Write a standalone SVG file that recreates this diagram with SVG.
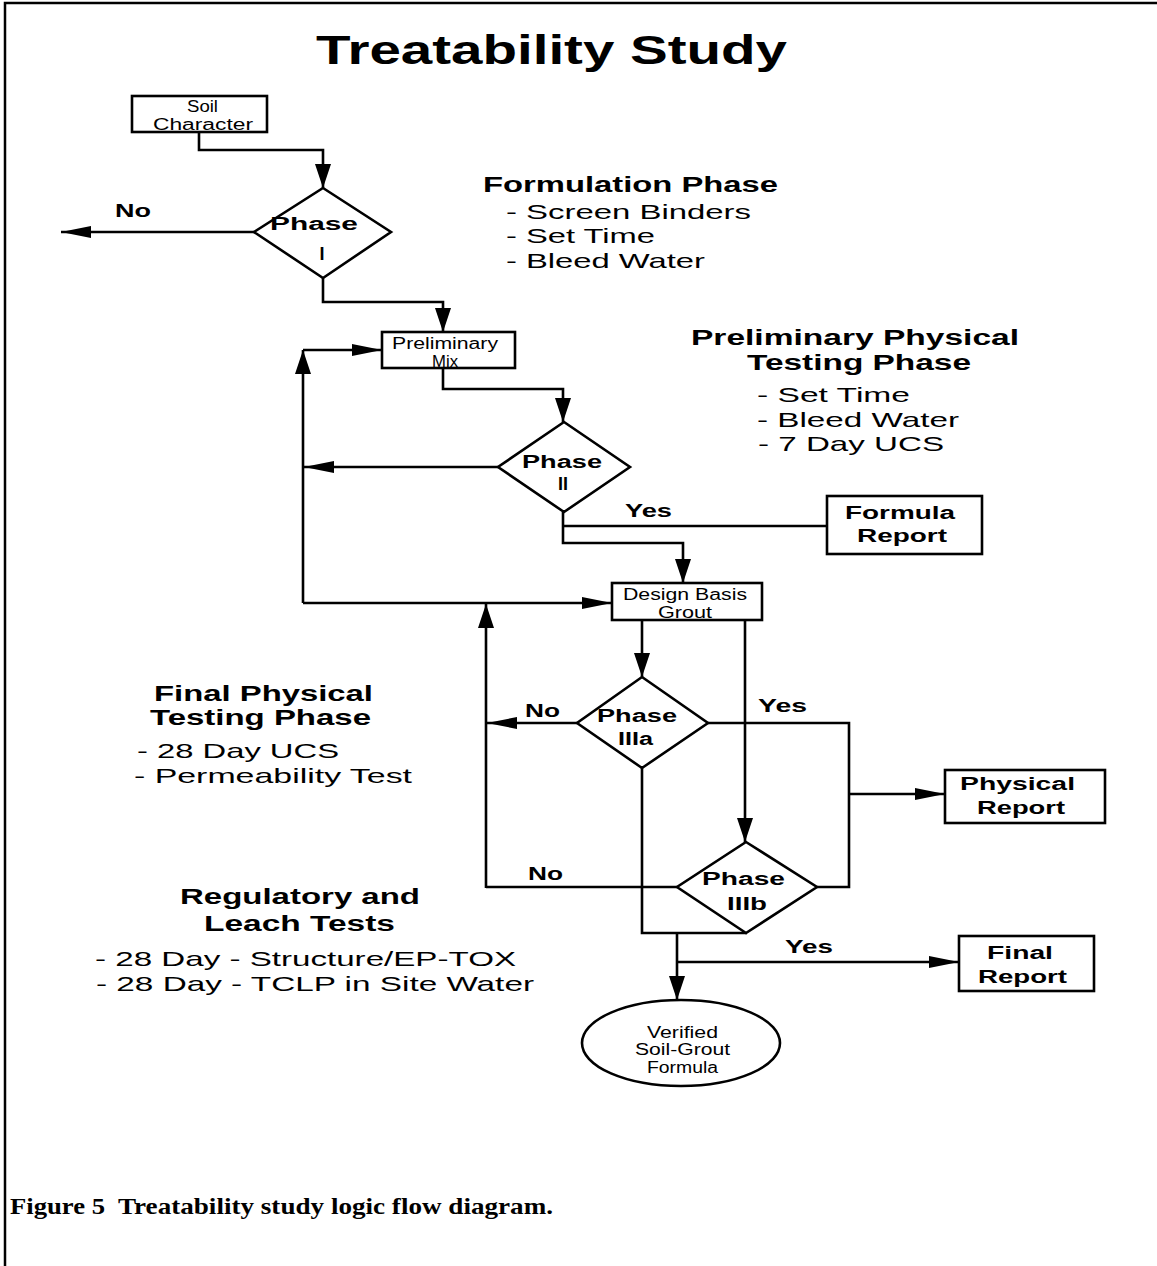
<svg xmlns="http://www.w3.org/2000/svg" width="1157" height="1266" viewBox="0 0 1157 1266">
<style>
.ln{fill:none;stroke:#000;stroke-width:2.6}
.bx{fill:#fff;stroke:#000;stroke-width:2.6}
.fr{fill:none;stroke:#000;stroke-width:2.5}
text{font-family:"Liberation Sans",Arial,sans-serif;fill:#000}
.ttl{font-size:40px;font-weight:bold}
.hd{font-size:22px;font-weight:bold}
.it{font-size:21px}
.lb{font-size:18px;font-weight:bold}
.sm{font-size:16px}
.cap{font-family:"Liberation Serif","Times New Roman",serif;font-size:23px;font-weight:bold}
</style>
<defs>
<marker id="av" markerUnits="userSpaceOnUse" markerWidth="24" markerHeight="16" refX="24" refY="8" orient="auto">
<path d="M0,0 L24,8 L0,16 Z" fill="#000"/>
</marker>
<marker id="ah" markerUnits="userSpaceOnUse" markerWidth="30" markerHeight="12" refX="30" refY="6" orient="auto">
<path d="M0,0 L30,6 L0,12 Z" fill="#000"/>
</marker>
</defs>
<rect width="1157" height="1266" fill="#fff"/>
<path class="fr" d="M5,1266 V3 H1157"/>
<text class="ttl" x="316" y="64" textLength="471" lengthAdjust="spacingAndGlyphs">Treatability Study</text>

<g id="connectors">
<path class="ln" d="M199,132 V150 H323 V188" marker-end="url(#av)"/>
<path class="ln" d="M254,232 H61" marker-end="url(#ah)"/>
<path class="ln" d="M323,278 V302 H443 V332" marker-end="url(#av)"/>
<path class="ln" d="M443,368 V389 H563 V422" marker-end="url(#av)"/>
<path class="ln" d="M498,467 H304" marker-end="url(#ah)"/>
<path class="ln" d="M303,603 V350" marker-end="url(#av)"/>
<path class="ln" d="M303,350 H382" marker-end="url(#ah)"/>
<path class="ln" d="M303,603 H612" marker-end="url(#ah)"/>
<path class="ln" d="M486,888 V604" marker-end="url(#av)"/>
<path class="ln" d="M563,512 V543 H683 V583" marker-end="url(#av)"/>
<path class="ln" d="M563,526 H827"/>
<path class="ln" d="M642,620 V677" marker-end="url(#av)"/>
<path class="ln" d="M745,620 V842" marker-end="url(#av)"/>
<path class="ln" d="M577,723 H487" marker-end="url(#ah)"/>
<path class="ln" d="M708,723 H849 V887 H817"/>
<path class="ln" d="M849,794 H945" marker-end="url(#ah)"/>
<path class="ln" d="M677,887 H486"/>
<path class="ln" d="M642,768 V933 H747"/>
<path class="ln" d="M677,933 V1000" marker-end="url(#av)"/>
<path class="ln" d="M677,962 H959" marker-end="url(#ah)"/>
</g>

<g id="soil">
<rect class="bx" x="132" y="96" width="135" height="36"/>
<text class="sm" x="187" y="112" textLength="31" lengthAdjust="spacingAndGlyphs">Soil</text>
<text class="sm" x="153" y="130" textLength="100" lengthAdjust="spacingAndGlyphs">Character</text>
</g>

<g id="phase1">
<polygon class="bx" points="323,188 391,232 323,278 254,232"/>
<text class="lb" x="270" y="230" textLength="88" lengthAdjust="spacingAndGlyphs">Phase</text>
<text class="lb" x="322" y="260" text-anchor="middle">I</text>
</g>
<text class="lb" x="115" y="217" textLength="36" lengthAdjust="spacingAndGlyphs">No</text>

<g id="prelimmix">
<rect class="bx" x="382" y="332" width="133" height="36"/>
<text class="sm" x="392" y="349" textLength="106" lengthAdjust="spacingAndGlyphs">Preliminary</text>
<text class="sm" x="432" y="367" textLength="26" lengthAdjust="spacingAndGlyphs">Mix</text>
</g>

<g id="phase2">
<polygon class="bx" points="564,422 630,467 564,512 498,467"/>
<text class="lb" x="522" y="468" textLength="80" lengthAdjust="spacingAndGlyphs">Phase</text>
<text class="lb" x="563" y="490" text-anchor="middle">II</text>
</g>
<text class="lb" x="625" y="517" textLength="47" lengthAdjust="spacingAndGlyphs">Yes</text>

<g id="formulareport">
<rect class="bx" x="827" y="496" width="155" height="58"/>
<text class="lb" x="845" y="519" textLength="110" lengthAdjust="spacingAndGlyphs">Formula</text>
<text class="lb" x="857" y="542" textLength="90" lengthAdjust="spacingAndGlyphs">Report</text>
</g>

<g id="designbasis">
<rect class="bx" x="612" y="583" width="150" height="37"/>
<text class="sm" x="623" y="600" textLength="124" lengthAdjust="spacingAndGlyphs">Design Basis</text>
<text class="sm" x="658" y="618" textLength="54" lengthAdjust="spacingAndGlyphs">Grout</text>
</g>

<g id="phase3a">
<polygon class="bx" points="642,677 708,723 642,768 577,723"/>
<text class="lb" x="597" y="722" textLength="80" lengthAdjust="spacingAndGlyphs">Phase</text>
<text class="lb" x="618" y="745" textLength="35" lengthAdjust="spacingAndGlyphs">IIIa</text>
</g>
<text class="lb" x="525" y="717" textLength="35" lengthAdjust="spacingAndGlyphs">No</text>
<text class="lb" x="758" y="712" textLength="49" lengthAdjust="spacingAndGlyphs">Yes</text>

<g id="phase3b">
<polygon class="bx" points="746,842 817,887 746,933 677,887"/>
<text class="lb" x="702" y="885" textLength="83" lengthAdjust="spacingAndGlyphs">Phase</text>
<text class="lb" x="727" y="910" textLength="40" lengthAdjust="spacingAndGlyphs">IIIb</text>
</g>
<text class="lb" x="528" y="880" textLength="35" lengthAdjust="spacingAndGlyphs">No</text>
<text class="lb" x="785" y="953" textLength="48" lengthAdjust="spacingAndGlyphs">Yes</text>

<g id="physicalreport">
<rect class="bx" x="945" y="770" width="160" height="53"/>
<text class="lb" x="960" y="790" textLength="115" lengthAdjust="spacingAndGlyphs">Physical</text>
<text class="lb" x="977" y="814" textLength="88" lengthAdjust="spacingAndGlyphs">Report</text>
</g>

<g id="finalreport">
<rect class="bx" x="959" y="936" width="135" height="55"/>
<text class="lb" x="987" y="959" textLength="66" lengthAdjust="spacingAndGlyphs">Final</text>
<text class="lb" x="978" y="983" textLength="89" lengthAdjust="spacingAndGlyphs">Report</text>
</g>

<g id="verified">
<ellipse class="bx" cx="681" cy="1043" rx="99" ry="43"/>
<text class="sm" x="647" y="1038" textLength="71" lengthAdjust="spacingAndGlyphs">Verified</text>
<text class="sm" x="635" y="1055" textLength="95" lengthAdjust="spacingAndGlyphs">Soil-Grout</text>
<text class="sm" x="647" y="1073" textLength="71" lengthAdjust="spacingAndGlyphs">Formula</text>
</g>

<g id="notes">
<text class="hd" x="483" y="192" textLength="295" lengthAdjust="spacingAndGlyphs">Formulation Phase</text>
<text class="it" x="506" y="219" textLength="245" lengthAdjust="spacingAndGlyphs">- Screen Binders</text>
<text class="it" x="506" y="243" textLength="149" lengthAdjust="spacingAndGlyphs">- Set Time</text>
<text class="it" x="506" y="268" textLength="199" lengthAdjust="spacingAndGlyphs">- Bleed Water</text>
<text class="hd" x="691" y="345" textLength="328" lengthAdjust="spacingAndGlyphs">Preliminary Physical</text>
<text class="hd" x="747" y="370" textLength="224" lengthAdjust="spacingAndGlyphs">Testing Phase</text>
<text class="it" x="757" y="402" textLength="153" lengthAdjust="spacingAndGlyphs">- Set Time</text>
<text class="it" x="757" y="427" textLength="202" lengthAdjust="spacingAndGlyphs">- Bleed Water</text>
<text class="it" x="758" y="451" textLength="186" lengthAdjust="spacingAndGlyphs">- 7 Day UCS</text>
<text class="hd" x="154" y="701" textLength="219" lengthAdjust="spacingAndGlyphs">Final Physical</text>
<text class="hd" x="150" y="725" textLength="221" lengthAdjust="spacingAndGlyphs">Testing Phase</text>
<text class="it" x="137" y="758" textLength="202" lengthAdjust="spacingAndGlyphs">- 28 Day UCS</text>
<text class="it" x="134" y="783" textLength="278" lengthAdjust="spacingAndGlyphs">- Permeability Test</text>
<text class="hd" x="180" y="904" textLength="240" lengthAdjust="spacingAndGlyphs">Regulatory and</text>
<text class="hd" x="204" y="931" textLength="191" lengthAdjust="spacingAndGlyphs">Leach Tests</text>
<text class="it" x="95" y="966" textLength="421" lengthAdjust="spacingAndGlyphs">- 28 Day - Structure/EP-TOX</text>
<text class="it" x="96" y="991" textLength="438" lengthAdjust="spacingAndGlyphs">- 28 Day - TCLP in Site Water</text>
</g>

<text class="cap" x="10" y="1214" textLength="95" lengthAdjust="spacingAndGlyphs">Figure 5</text>
<text class="cap" x="118" y="1214" textLength="435" lengthAdjust="spacingAndGlyphs">Treatability study logic flow diagram.</text>
</svg>
